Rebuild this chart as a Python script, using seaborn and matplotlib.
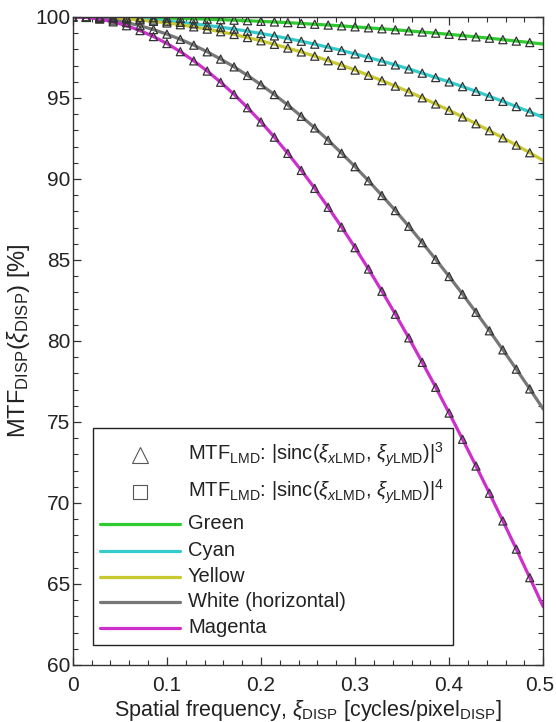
import numpy as np
import pandas as pd
import matplotlib
matplotlib.use("Agg")
import matplotlib.pyplot as plt
import seaborn as sns
from matplotlib.lines import Line2D
from matplotlib.markers import MarkerStyle
from matplotlib.patches import Rectangle
from matplotlib.ticker import MultipleLocator
from matplotlib.transforms import ScaledTranslation

# sample grid: 36 points from 0 to 0.5 (step 1/70), markers on the first 35
xi_disp = np.arange(36) / 70

green = [100.00, 100.00, 99.99, 99.99, 99.98, 99.97, 99.95, 99.93, 99.91, 99.89,
         99.86, 99.83, 99.80, 99.77, 99.73, 99.69, 99.65, 99.60, 99.55, 99.50,
         99.45, 99.39, 99.33, 99.27, 99.21, 99.14, 99.07, 99.00, 98.93, 98.85,
         98.77, 98.69, 98.60, 98.51, 98.42, 98.33]
cyan = [100.00, 99.99, 99.98, 99.95, 99.92, 99.87, 99.81, 99.74, 99.67, 99.58,
        99.48, 99.37, 99.25, 99.12, 98.98, 98.83, 98.67, 98.50, 98.32, 98.13,
        97.93, 97.72, 97.50, 97.27, 97.04, 96.79, 96.53, 96.26, 95.99, 95.70,
        95.41, 95.10, 94.79, 94.47, 94.14, 93.80]
yellow = [100.00, 99.99, 99.97, 99.93, 99.88, 99.81, 99.73, 99.63, 99.52, 99.39,
          99.25, 99.09, 98.92, 98.73, 98.53, 98.31, 98.08, 97.84, 97.58, 97.30,
          97.02, 96.72, 96.40, 96.07, 95.73, 95.38, 95.01, 94.63, 94.24, 93.83,
          93.41, 92.98, 92.54, 92.09, 91.62, 91.14]
white = [100.00, 99.98, 99.91, 99.81, 99.65, 99.46, 99.22, 98.94, 98.62, 98.26,
         97.85, 97.40, 96.92, 96.39, 95.82, 95.21, 94.56, 93.87, 93.15, 92.39,
         91.59, 90.76, 89.89, 88.98, 88.05, 87.08, 86.07, 85.04, 83.98, 82.89,
         81.77, 80.63, 79.45, 78.26, 77.04, 75.80]
magenta = [100.00, 99.97, 99.87, 99.70, 99.46, 99.16, 98.79, 98.36, 97.86, 97.29,
           96.66, 95.97, 95.22, 94.40, 93.52, 92.58, 91.58, 90.53, 89.42, 88.25,
           87.03, 85.76, 84.44, 83.07, 81.65, 80.19, 78.68, 77.14, 75.55, 73.93,
           72.28, 70.60, 68.89, 67.15, 65.39, 63.60]

names = ["Green", "Cyan", "Yellow", "White (horizontal)", "Magenta"]
colors = ["#2fcc2f", "#33cccc", "#c8c830", "#777777", "#cc2fcc"]
series = [green, cyan, yellow, white, magenta]

frames = []
for name, vals in zip(names, series):
    frames.append(pd.DataFrame({"xi": xi_disp, "mtf": vals, "curve": name}))
df = pd.concat(frames, ignore_index=True)
df_mark = df[df["xi"] < 0.495]

sns.set_style("ticks")
plt.rcParams["font.family"] = ["Liberation Sans", "DejaVu Sans"]
plt.rcParams["mathtext.fontset"] = "custom"
plt.rcParams["mathtext.rm"] = "Liberation Sans"
plt.rcParams["mathtext.it"] = "Liberation Sans:italic"
plt.rcParams["mathtext.bf"] = "Liberation Sans:bold"

fig, ax = plt.subplots(figsize=(5.56, 7.22), dpi=100)
fig.subplots_adjust(left=0.131, right=0.977, top=0.9765, bottom=0.079)

sns.lineplot(data=df, x="xi", y="mtf", hue="curve", palette=dict(zip(names, colors)),
             lw=2.3, legend=False, ax=ax, sort=False)
sns.scatterplot(data=df_mark, x="xi", y="mtf", marker=MarkerStyle("^", fillstyle="none"),
                color="#333333", s=34, linewidth=0.9, ax=ax, zorder=3)

ax.set_xlim(0, 0.5)
ax.set_ylim(60, 100)
ax.xaxis.set_minor_locator(MultipleLocator(0.02))
ax.yaxis.set_major_locator(MultipleLocator(5))
ax.yaxis.set_minor_locator(MultipleLocator(1))
ax.set_xticks([0, 0.1, 0.2, 0.3, 0.4, 0.5])
ax.set_xticklabels(["0", "0.1", "0.2", "0.3", "0.4", "0.5"])

ax.tick_params(which="both", direction="in", top=True, right=True, colors="#333333",
               labelcolor="#222222", labelsize=15)
ax.tick_params(which="major", length=6, width=0.9)
ax.tick_params(which="minor", length=3.5, width=0.8)
ax.tick_params(axis="y", pad=2)
ax.tick_params(axis="x", pad=8)
for sp in ax.spines.values():
    sp.set_color("#333333")
    sp.set_linewidth(1.0)

# last x label sits at the figure edge; keep it inside
last = ax.get_xticklabels()[-1]
last.set_horizontalalignment("right")
last.set_transform(last.get_transform() + ScaledTranslation(0.11, 0, fig.dpi_scale_trans))

ax.set_xlabel(r"Spatial frequency, $\xi_{\rm DISP}$ [cycles/pixel$_{\rm DISP}$]",
              fontsize=15.5, color="#222222", labelpad=2)
ax.set_ylabel(r"MTF$_{\rm DISP}$($\xi_{\rm DISP}$) [%]", fontsize=17, color="#222222",
              labelpad=2)

# legend box, drawn by hand so the uneven row spacing matches
box_x0, box_x1 = 0.0426, 0.8085
box_y0, box_y1 = 0.0309, 0.3657
row_y = [0.3241, 0.2670, 0.2176, 0.1759, 0.1358, 0.0972, 0.0571]
hx0, hx1, hmid, tx = 0.0574, 0.2277, 0.1426, 0.2447

ax.add_patch(Rectangle((box_x0, box_y0), box_x1 - box_x0, box_y1 - box_y0,
                       transform=ax.transAxes, fc="white", ec="#222222", lw=1.0, zorder=5))

labels = [
    r"MTF$_{\rm LMD}$: |sinc($\xi_{x{\rm LMD}}$, $\xi_{y{\rm LMD}}$)|$^3$",
    r"MTF$_{\rm LMD}$: |sinc($\xi_{x{\rm LMD}}$, $\xi_{y{\rm LMD}}$)|$^4$",
] + names
for k, (lab, yy) in enumerate(zip(labels, row_y)):
    if k == 0:
        ax.add_line(Line2D([hmid], [yy], ls="none", marker="^", ms=12, mfc="none",
                           mec="#555555", mew=0.8, transform=ax.transAxes, zorder=6))
    elif k == 1:
        ax.add_line(Line2D([hmid], [yy], ls="none", marker="s", ms=10, mfc="none",
                           mec="#555555", mew=0.8, transform=ax.transAxes, zorder=6))
    else:
        ax.add_line(Line2D([hx0, hx1], [yy, yy], color=colors[k - 2], lw=2.3,
                           transform=ax.transAxes, zorder=6))
    ax.text(tx, yy, lab, transform=ax.transAxes, fontsize=14.5, color="#222222",
            va="center", ha="left", zorder=7)

fig.savefig("out.png", dpi=100)
